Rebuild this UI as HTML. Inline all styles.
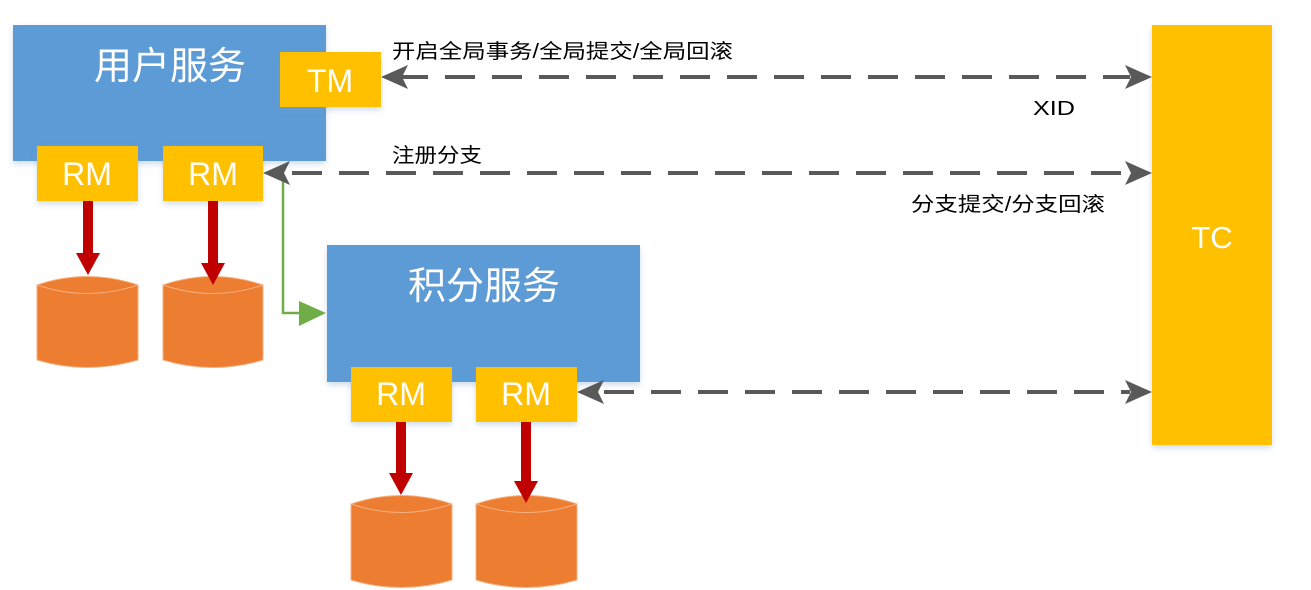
<!DOCTYPE html>
<html><head><meta charset="utf-8"><style>
body{margin:0;background:#fff;width:1311px;height:590px;overflow:hidden;font-family:"Liberation Sans","Noto Sans CJK SC",sans-serif}
</style></head><body>
<svg width="1311" height="590" xmlns="http://www.w3.org/2000/svg" style="position:absolute;left:0;top:0">
<defs>
<filter id="sh" x="-20%" y="-20%" width="140%" height="150%"><feDropShadow dx="0" dy="3" stdDeviation="3" flood-color="#7a9cc6" flood-opacity="0.35"/></filter>
</defs>
<g font-family="Liberation Sans, Noto Sans CJK SC, sans-serif">
<rect x="13" y="25" width="313" height="136" fill="#5b9bd5" filter="url(#sh)"/>
<text x="170" y="79" font-size="38" fill="#fff" text-anchor="middle">用户服务</text>
<rect x="280" y="52" width="101" height="55" fill="#ffc000" filter="url(#sh)"/>
<text x="330" y="92" font-size="32" fill="#fff" text-anchor="middle">TM</text>
<rect x="37" y="146" width="101" height="55" fill="#ffc000" filter="url(#sh)"/>
<text x="87" y="185" font-size="32" fill="#fff" text-anchor="middle">RM</text>
<rect x="163" y="146" width="100" height="55" fill="#ffc000" filter="url(#sh)"/>
<text x="213" y="185" font-size="32" fill="#fff" text-anchor="middle">RM</text>
<rect x="327" y="245" width="313" height="137" fill="#5b9bd5" filter="url(#sh)"/>
<text x="484" y="299" font-size="38" fill="#fff" text-anchor="middle">积分服务</text>
<rect x="351" y="367" width="101" height="55" fill="#ffc000" filter="url(#sh)"/>
<text x="401" y="405" font-size="32" fill="#fff" text-anchor="middle">RM</text>
<rect x="476" y="367" width="101" height="55" fill="#ffc000" filter="url(#sh)"/>
<text x="526" y="405" font-size="32" fill="#fff" text-anchor="middle">RM</text>
<rect x="1152" y="25" width="120" height="420" fill="#ffc000" filter="url(#sh)"/>
<text x="1212" y="248" font-size="31" fill="#fff" text-anchor="middle">TC</text>
<g fill="#ed7d31" stroke="#f4b183" stroke-width="1">
<path d="M37 285 Q87 268 138 285 L138 360 Q87 375 37 360 Z"/>
<path d="M37 285 Q87 302 138 285" fill="none"/>
<path d="M163 285 Q213 268 263 285 L263 360 Q213 375 163 360 Z"/>
<path d="M163 285 Q213 302 263 285" fill="none"/>
<path d="M351 504 Q401 487 452 504 L452 580 Q401 595 351 580 Z"/>
<path d="M351 504 Q401 521 452 504" fill="none"/>
<path d="M476 504 Q526 487 577 504 L577 580 Q526 595 476 580 Z"/>
<path d="M476 504 Q526 521 577 504" fill="none"/>
</g>
<g fill="#c00000">
<rect x="83" y="201" width="10" height="53"/><polygon points="76,253 100,253 88,275"/>
<rect x="208" y="201" width="10" height="63"/><polygon points="201,263 225,263 213,285"/>
<rect x="396" y="422" width="10" height="52"/><polygon points="389,473 413,473 401,495"/>
<rect x="521" y="422" width="10" height="60"/><polygon points="514,481 538,481 526,503"/>
</g>
<polyline points="283,175 283,313 300,313" fill="none" stroke="#70ad47" stroke-width="2.5"/>
<polygon points="299,301 326,313 299,326" fill="#70ad47"/>
<g stroke="#595959" stroke-width="4" stroke-dasharray="30,17" fill="none">
<line x1="398" y1="77" x2="1130" y2="77"/>
<line x1="292" y1="173" x2="1130" y2="173"/>
<line x1="604" y1="392" x2="1130" y2="392"/>
</g>
<g fill="#595959">
<polygon points="381,77 408,65 402,77 408,89"/>
<polygon points="1152,77 1125,65 1131,77 1125,89"/>
<polygon points="263,173 290,161 284,173 290,185"/>
<polygon points="1152,173 1125,161 1131,173 1125,185"/>
<polygon points="577,392 604,380 598,392 604,404"/>
<polygon points="1152,392 1125,380 1131,392 1125,404"/>
</g>
<g font-size="20" fill="#000">
<text x="392" y="58" textLength="341" lengthAdjust="spacingAndGlyphs">开启全局事务/全局提交/全局回滚</text>
<text x="1033" y="115" textLength="42" lengthAdjust="spacingAndGlyphs">XID</text>
<text x="392" y="162" textLength="90" lengthAdjust="spacingAndGlyphs">注册分支</text>
<text x="911" y="211" textLength="194" lengthAdjust="spacingAndGlyphs">分支提交/分支回滚</text>
</g>
</g>
</svg>
</body></html>
